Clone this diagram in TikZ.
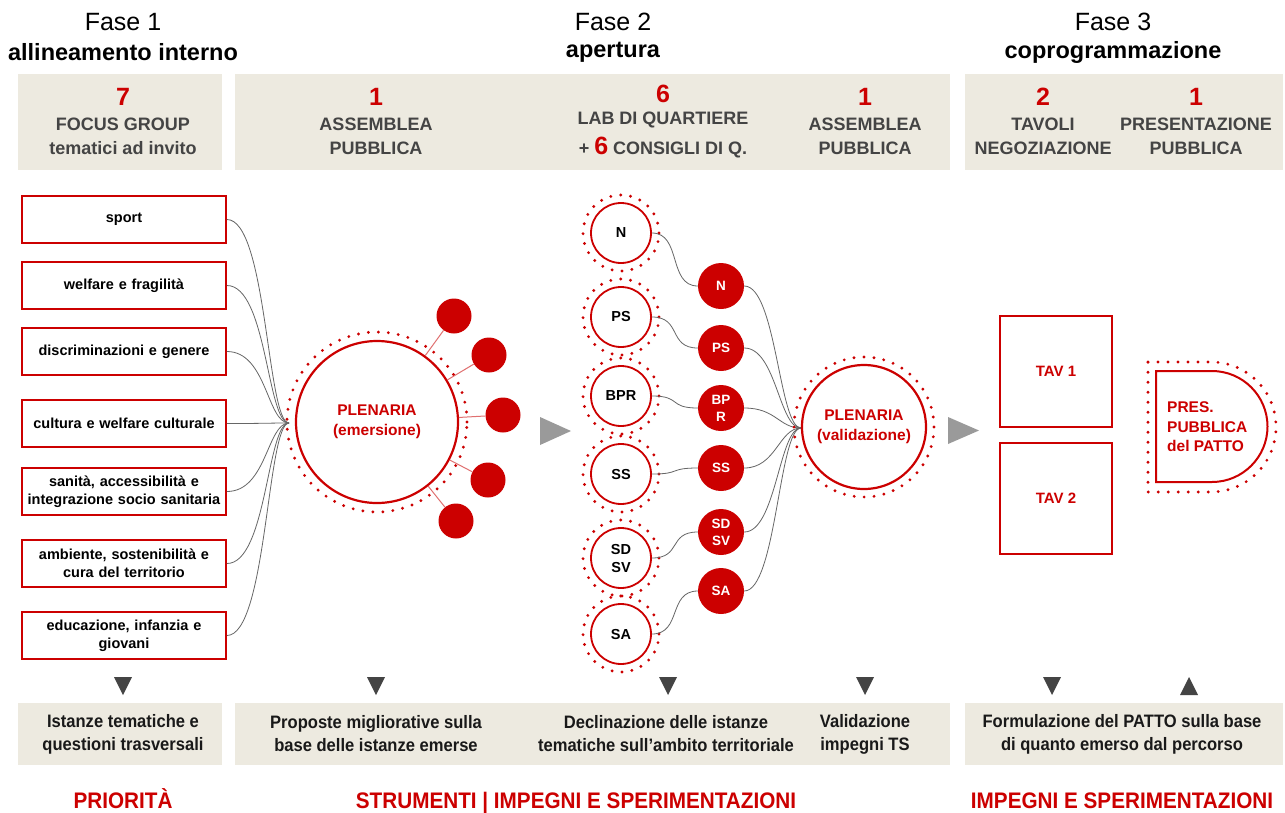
\documentclass[tikz,border=0pt]{standalone}
\usepackage{fontspec}
\setmainfont{Liberation Sans}
\newfontfamily\condfont[FakeStretch=0.92]{Liberation Sans}
\definecolor{myred}{HTML}{CC0000}
\definecolor{lightred}{HTML}{E07070}
\definecolor{beige}{HTML}{EDEAE0}
\definecolor{hdrgray}{HTML}{444444}
\definecolor{linkgray}{HTML}{666666}
\definecolor{arrowgray}{HTML}{9A9A9A}
\definecolor{tridark}{HTML}{444444}
\begin{document}
\begin{tikzpicture}[x=1pt,y=-1pt,
  title/.style={font=\fontsize{25}{28}\selectfont, text=black, inner sep=0pt},
  titleb/.style={font=\bfseries\fontsize{23.5}{28}\selectfont, text=black, inner sep=0pt},
  hnum/.style={font=\bfseries\fontsize{25}{28}\selectfont, text=myred, inner sep=0pt},
  hlab/.style={font=\bfseries\fontsize{18}{24}\selectfont, text=hdrgray, align=center, inner sep=0pt},
  lbox/.style={draw=myred, line width=1.8pt, fill=white, minimum width=204pt, minimum height=47pt, text width=195pt, align=center, font=\bfseries\fontsize{14.5}{18}\selectfont, inner sep=0pt},
  link/.style={draw=linkgray, line width=0.8pt},
  plen/.style={circle, draw=myred, line width=2.2pt, fill=white, text=myred, align=center, font=\bfseries\fontsize{15.5}{20}\selectfont, inner sep=0pt},
  ring/.style={draw=myred, line width=3.2pt, line cap=round, dash pattern=on 0pt off 10pt},
  sat/.style={circle, fill=myred, minimum size=35pt, inner sep=0pt},
  satlink/.style={draw=lightred, line width=1pt},
  ocirc/.style={circle, draw=myred, line width=1.8pt, fill=white, minimum size=60pt, inner sep=0pt, align=center, font=\bfseries\fontsize{14.5}{18}\selectfont},
  rcirc/.style={circle, fill=myred, text=white, minimum size=46pt, inner sep=0pt, align=center, font=\bfseries\fontsize{13.5}{17}\selectfont},
  tav/.style={draw=myred, line width=2pt, minimum width=112pt, minimum height=111pt, inner sep=0pt, text=myred, font=\bfseries\fontsize{15}{18}\selectfont},
  btext/.style={font=\condfont\bfseries\fontsize{18}{23}\selectfont, text=black!90, align=center, inner sep=0pt},
  blabel/.style={font=\condfont\bfseries\fontsize{22.5}{26}\selectfont, text=myred, inner sep=0pt, anchor=base}
]
\useasboundingbox (0,0) rectangle (1285,812);
\fill[white] (0,0) rectangle (1285,812);

% titles
\node[title] (f1a) at (123,22) {Fase 1};
\node[titleb] (f1b) at (123,52) {allineamento interno};
\node[title] (f2a) at (613,22) {Fase 2};
\node[titleb] (f2b) at (613,52) {apertura};
\node[title] (f3a) at (1113,22) {Fase 3};
\node[titleb] (f3b) at (1113,52) {coprogrammazione};

% header boxes
\fill[beige] (18,74) rectangle (222,170);
\fill[beige] (235,74) rectangle (950,170);
\fill[beige] (965,74) rectangle (1283,170);

\node[hnum] (n1) at (123,97) {7};
\node[hlab] (l1) at (123,136) {FOCUS GROUP\\tematici ad invito};
\node[hnum] (n2) at (376,97) {1};
\node[hlab] (l2) at (376,136) {ASSEMBLEA\\PUBBLICA};
\node[hnum] (n3) at (663,94) {6};
\node[hlab] (l3a) at (663,120) {LAB DI QUARTIERE};
\node[hlab] (l3b) at (663,148) {+ {\color{myred}\fontsize{25}{28}\selectfont 6} CONSIGLI DI Q.};
\node[hnum] (n4) at (865,97) {1};
\node[hlab] (l4) at (865,136) {ASSEMBLEA\\PUBBLICA};
\node[hnum] (n5) at (1043,97) {2};
\node[hlab] (l5) at (1043,136) {TAVOLI\\NEGOZIAZIONE};
\node[hnum] (n6) at (1196,97) {1};
\node[hlab] (l6) at (1196,136) {PRESENTAZIONE\\PUBBLICA};

% left boxes
\node[lbox] (b1) at (124,219.5) {sport};
\node[lbox] (b2) at (124,285.5) {welfare e fragilità};
\node[lbox] (b3) at (124,351.5) {discriminazioni e genere};
\node[lbox] (b4) at (124,423.5) {cultura e welfare culturale};
\node[lbox] (b5) at (124,491.5) {sanità, accessibilità e\\integrazione socio sanitaria};
\node[lbox] (b6) at (124,563.5) {ambiente, sostenibilità e\\cura del territorio};
\node[lbox] (b7) at (124,635.5) {educazione, infanzia e\\giovani};

\coordinate (c1) at (289,423);
\foreach \b in {b1,b2,b3,b4,b5,b6,b7}
  \draw[link] (\b.east) .. controls +(40,0) and +(-22,0) .. (c1);

% plenaria emersione
\node[plen, minimum size=162pt] (p1) at (377,422) {PLENARIA\\(emersione)};
\draw[ring] (p1.center) circle (90pt);
\node[sat] (s1) at (454,316) {};
\node[sat] (s2) at (489,355) {};
\node[sat] (s3) at (503,415) {};
\node[sat] (s4) at (488,480) {};
\node[sat] (s5) at (456,521) {};
\foreach \s in {s1,s2,s3,s4,s5}
  \draw[satlink] (p1) -- (\s);

% arrow 1
\fill[arrowgray] (540,417) -- (571,431) -- (540,445) -- cycle;

% middle circles
\node[ocirc] (o1) at (621,233) {N};
\node[ocirc] (o2) at (621,317) {PS};
\node[ocirc] (o3) at (621,396) {BPR};
\node[ocirc] (o4) at (621,474) {SS};
\node[ocirc] (o5) at (621,558) {SD\\SV};
\node[ocirc] (o6) at (621,634) {SA};
\foreach \o in {o1,o2,o3,o4,o5,o6}
  \draw[ring] (\o.center) circle (38pt);

\node[rcirc] (r1) at (721,286) {N};
\node[rcirc] (r2) at (721,348) {PS};
\node[rcirc] (r3) at (721,408) {BP\\R};
\node[rcirc] (r4) at (721,468) {SS};
\node[rcirc] (r5) at (721,532) {SD\\SV};
\node[rcirc] (r6) at (721,591) {SA};

\foreach \i in {1,...,6}
  \draw[link] (o\i.east) .. controls +(30,0) and +(-30,0) .. (r\i.west);

\coordinate (c2) at (801,428);
\foreach \i in {1,...,6}
  \draw[link] (r\i.east) .. controls +(32,0) and +(-22,0) .. (c2);

% plenaria validazione
\node[plen, minimum size=124pt] (p2) at (864,427) {PLENARIA\\(validazione)};
\draw[ring] (p2.center) circle (70pt);

% arrow 2
\fill[arrowgray] (948,417) -- (979,430.5) -- (948,444) -- cycle;

% tavoli
\node[tav] (t1) at (1056,371.5) {TAV 1};
\node[tav] (t2) at (1056,498.5) {TAV 2};

% presentazione pubblica
\draw[myred, line width=2pt] (1156,371) -- (1212,371)
  .. controls (1242.6,371) and (1267.5,395.9) .. (1267.5,426.5)
  .. controls (1267.5,457.1) and (1242.6,482) .. (1212,482)
  -- (1156,482) -- cycle;
\draw[ring] (1148,362) -- (1211,362)
  .. controls (1246.9,362) and (1276,391.1) .. (1276,427)
  .. controls (1276,462.9) and (1246.9,492) .. (1211,492)
  -- (1148,492) -- cycle;
\node[anchor=west, align=left, text=myred, font=\bfseries\fontsize{15.5}{19.5}\selectfont, inner sep=0pt] (pp) at (1167,427) {PRES.\\PUBBLICA\\del PATTO};

% bottom triangles
\fill[tridark] (114,677) -- (132,677) -- (123,695) -- cycle;
\fill[tridark] (367,677) -- (385,677) -- (376,695) -- cycle;
\fill[tridark] (659,677) -- (677,677) -- (668,695) -- cycle;
\fill[tridark] (856,677) -- (874,677) -- (865,695) -- cycle;
\fill[tridark] (1043,677) -- (1061,677) -- (1052,695) -- cycle;
\fill[tridark] (1180,695) -- (1198,695) -- (1189,677) -- cycle;

% bottom boxes
\fill[beige] (18,703) rectangle (222,765);
\fill[beige] (235,703) rectangle (950,765);
\fill[beige] (965,703) rectangle (1283,765);

\node[btext] (t_a) at (123,734) {Istanze tematiche e\\questioni trasversali};
\node[btext] (t_b) at (376,734) {Proposte migliorative sulla\\base delle istanze emerse};
\node[btext] (t_c) at (666,734) {Declinazione delle istanze\\tematiche sull’ambito territoriale};
\node[btext] (t_d) at (865,734) {Validazione\\impegni TS};
\node[btext] (t_e) at (1122,734) {Formulazione del PATTO sulla base\\di quanto emerso dal percorso};

\node[blabel] (L1) at (123,808) {PRIORITÀ};
\node[blabel] (L2) at (576,808) {STRUMENTI | IMPEGNI E SPERIMENTAZIONI};
\node[blabel] (L3) at (1122,808) {IMPEGNI E SPERIMENTAZIONI};
\end{tikzpicture}
\end{document}
